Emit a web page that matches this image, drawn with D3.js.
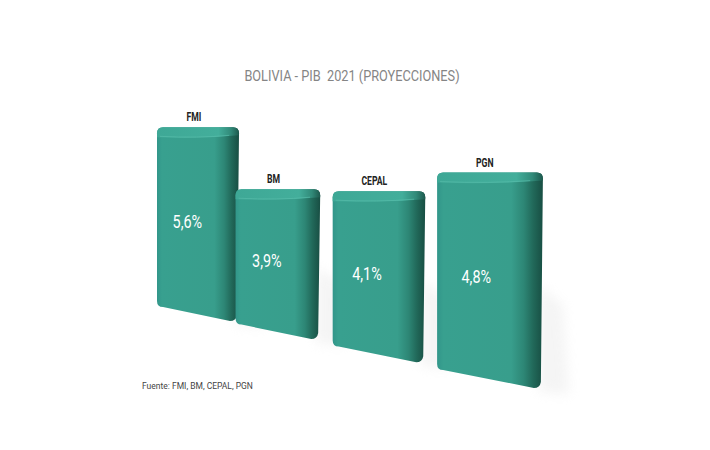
<!DOCTYPE html>
<html>
<head>
<meta charset="utf-8">
<script src="https://cdn.jsdelivr.net/npm/d3@7"></script>
<style>
  body { margin: 0; background: #fff; }
  svg { display: block; }
</style>
</head>
<body>
<svg id="chart"></svg>
<script>
const categories = ["FMI", "BM", "CEPAL", "PGN"];
const values = [5.6, 3.9, 4.1, 4.8];
const valueLabels = ["5,6%", "3,9%", "4,1%", "4,8%"];
const titleText = "BOLIVIA - PIB  2021 (PROYECCIONES)";
const sourceText = "Fuente: FMI, BM, CEPAL, PGN";

const width = 710, height = 450;

let svg = d3.select("#chart")
  .attr("width", width)
  .attr("height", height);

let defs = svg.append("defs");

let bodyGrad = defs.append("linearGradient").attr("id", "bodyGrad")
  .attr("x1", "0%").attr("x2", "100%").attr("y1", "0%").attr("y2", "0%");
[[0, "#32968a"], [0.06, "#38a08f"], [0.7, "#389e8c"], [0.82, "#2d8675"], [0.91, "#216859"], [1, "#184e43"]]
  .forEach(function (s) {
    bodyGrad.append("stop").attr("offset", s[0]).attr("stop-color", s[1]);
  });

let topGrad = defs.append("linearGradient").attr("id", "topGrad")
  .attr("x1", "0%").attr("x2", "100%").attr("y1", "0%").attr("y2", "0%");
[[0, "#3ea896"], [0.75, "#43ae9b"], [0.9, "#318a79"], [1, "#1d594d"]]
  .forEach(function (s) {
    topGrad.append("stop").attr("offset", s[0]).attr("stop-color", s[1]);
  });

defs.append("filter").attr("id", "blur")
  .attr("x", "-50%").attr("y", "-50%").attr("width", "200%").attr("height", "200%")
  .append("feGaussianBlur").attr("stdDeviation", 6);

// perspective layout: bars come closer to the viewer towards the right
let idx = d3.range(categories.length);
let xc = d3.scalePow().exponent(1.18).domain([0, 3]).range([198, 490]);
let kw = d3.scalePow().exponent(2).domain([0, 3]).range([1, 1.29]);
let kh = d3.scaleLinear().domain([0, 3]).range([1, 1.29]);
let floorY = d3.scaleLinear().domain([198, 490]).range([314, 379]);
let y = d3.scaleLinear().domain([0, 6]).range([0, 200]);
let baseWidth = 82;

let bars = idx.map(function (i) {
  let cx = xc(i);
  let w = baseWidth * kw(i);
  let h = y(values[i]) * kh(i);
  let f = floorY(cx);
  let slant = 0.17 * w;
  return {
    cat: categories[i],
    label: valueLabels[i],
    cx: cx, w: w, h: h,
    L: cx - w / 2, R: cx + w / 2,
    T: f - h,
    BL: f - slant / 2, BR: f + slant / 2
  };
});

// soft floor shadows
svg.append("g").selectAll("path")
  .data(bars)
  .join("path")
  .attr("d", function (d) {
    return `M${d.R - 4},${d.BR - d.h * 0.5} L${d.R + 20},${d.BR - d.h * 0.4} L${d.R + 26},${d.BR + 6} L${d.R - 4},${d.BR + 4} Z`;
  })
  .attr("fill", "#d6d6d6")
  .attr("opacity", 0.25)
  .attr("filter", "url(#blur)");

let g = svg.append("g");

function bodyPath(d) {
  let r = 6;
  return `M${d.L},${d.T + r} Q${d.L},${d.T} ${d.L + r},${d.T}` +
    ` L${d.R - r},${d.T} Q${d.R},${d.T} ${d.R},${d.T + r}` +
    ` L${d.R - 2},${d.BR - r} Q${d.R - 3},${d.BR} ${d.R - r - 3},${d.BR}` +
    ` L${d.L + r},${d.BL} Q${d.L},${d.BL} ${d.L},${d.BL - r} Z`;
}

function topPath(d) {
  let r = 6;
  return `M${d.L},${d.T + 10} L${d.L},${d.T + r} Q${d.L},${d.T} ${d.L + r},${d.T}` +
    ` L${d.R - r},${d.T} Q${d.R},${d.T} ${d.R},${d.T + r} L${d.R},${d.T + 8}` +
    ` Q${d.cx},${d.T + 12} ${d.L},${d.T + 10} Z`;
}

g.selectAll(".body")
  .data(bars)
  .join("path")
  .attr("class", "body")
  .attr("d", bodyPath)
  .attr("fill", "url(#bodyGrad)");

g.selectAll(".top")
  .data(bars)
  .join("path")
  .attr("class", "top")
  .attr("d", topPath)
  .attr("fill", "url(#topGrad)");

g.selectAll(".hl")
  .data(bars)
  .join("path")
  .attr("class", "hl")
  .attr("d", function (d) {
    return `M${d.L + 3},${d.T + 9} Q${d.cx},${d.T + 11} ${d.R - d.w * 0.12},${d.T + 8}`;
  })
  .attr("fill", "none")
  .attr("stroke", "#5cc0ad")
  .attr("stroke-width", 1)
  .attr("opacity", 0.6);

// condensed look: Roboto squeezed horizontally
function squeeze(sx) {
  return function (d) {
    return `translate(${d.tx},${d.ty}) scale(${sx},1)`;
  };
}

// category names above the bars
g.selectAll(".cat")
  .data(bars.map(function (d) {
    return { text: d.cat, tx: d.cx - d.w * 0.05, ty: d.T - 6 };
  }))
  .join("text")
  .attr("class", "cat")
  .attr("transform", squeeze(0.72))
  .attr("text-anchor", "middle")
  .attr("font-family", "Roboto, sans-serif")
  .attr("font-weight", "bold")
  .attr("font-size", 12)
  .attr("fill", "#222")
  .text(function (d) { return d.text; });

// value labels inside the bars
g.selectAll(".val")
  .data(bars.map(function (d) {
    return { text: d.label, tx: d.cx - d.w * 0.13, ty: d.T + d.h * 0.5 + 7 };
  }))
  .join("text")
  .attr("class", "val")
  .attr("transform", squeeze(0.8))
  .attr("text-anchor", "middle")
  .attr("font-family", "Roboto, sans-serif")
  .attr("font-size", 18)
  .attr("fill", "#fff")
  .text(function (d) { return d.text; });

svg.append("text")
  .datum({ tx: 352, ty: 81 })
  .attr("transform", squeeze(0.85))
  .attr("text-anchor", "middle")
  .attr("font-family", "Roboto, sans-serif")
  .attr("font-size", 15)
  .attr("fill", "#858585")
  .style("white-space", "pre")
  .text(titleText);

svg.append("text")
  .attr("x", 142)
  .attr("y", 389)
  .attr("font-family", "Roboto, sans-serif")
  .attr("font-size", 8.5)
  .attr("fill", "#444")
  .text(sourceText);
</script>
</body>
</html>
